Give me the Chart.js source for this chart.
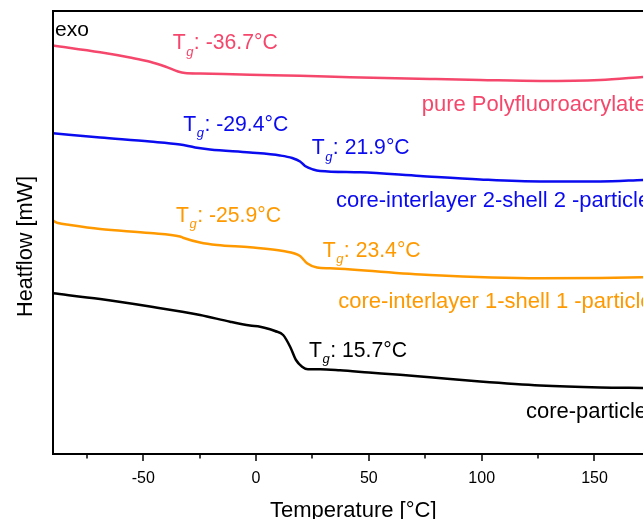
<!DOCTYPE html>
<html>
<head>
<meta charset="utf-8">
<script src="https://cdn.jsdelivr.net/npm/chart.js@4/dist/chart.umd.min.js"></script>
<style>
html,body{margin:0;padding:0;background:#fff;}
#c{display:block;}
</style>
</head>
<body>
<canvas id="c" width="643" height="519"></canvas>
<script>
// ---- data (Temperature in °C, heat flow in arbitrary offset units) ----
const redT   = [-90, -69.1, -55.9, -47.0, -40.3, -34.6, -31.5, -24.8, -2.7, 19.5, 41.7, 77.1, 99.3, 125.9, 152.5, 171.5];
const redHF  = [40.85, 40.17, 39.65, 39.23, 38.75, 38.25, 38.10, 38.05, 37.92, 37.83, 37.67, 37.50, 37.40, 37.30, 37.40, 37.70];

const blueT  = [-90, -69.1, -47.0, -33.7, -27.0, -20.4, -2.7, 10.6, 16.0, 19.5, 21.7, 25.3, 28.4, 46.1, 72.7, 99.3, 125.9, 152.5, 171.5];
const blueHF = [32.07, 31.65, 31.25, 30.95, 30.65, 30.45, 30.15, 29.85, 29.60, 29.25, 28.80, 28.45, 28.30, 28.17, 27.80, 27.45, 27.25, 27.25, 27.40];

const orangeT  = [-90, -87.8, -82.4, -69.1, -47.0, -33.7, -32.4, -24.8, -17.3, -2.7, 12.0, 19.5, 22.6, 27.0, 32.8, 77.1, 125.9, 152.5, 171.5];
const orangeHF = [23.33, 23.10, 22.90, 22.50, 22.10, 21.75, 21.63, 21.15, 20.90, 20.67, 20.30, 19.80, 19.07, 18.65, 18.57, 17.90, 17.57, 17.60, 17.67];

const blackT  = [-90, -69.1, -47.0, -24.8, -11.5, -2.7, 1.8, 6.2, 8.4, 12.0, 15.1, 17.7, 20.4, 23.0, 28.4, 37.2, 50.0, 63.8, 77.1, 99.3, 125.9, 152.5, 171.5];
const blackHF = [16.07, 15.50, 14.75, 13.90, 13.23, 12.85, 12.73, 12.47, 12.30, 11.90, 10.73, 9.40, 8.73, 8.47, 8.47, 8.37, 8.15, 7.92, 7.67, 7.25, 6.85, 6.65, 6.60];

const seriesNames = ["pure Polyfluoroacrylate", "core-interlayer 2-shell 2 -particle", "core-interlayer 1-shell 1 -particle", "core-particle"];
const xTickLabels = [-50, 0, 50, 100, 150];
const xMinorTicks = [-75, -25, 25, 75, 125];
const tgValues = ["-36.7°C", "-29.4°C", "21.9°C", "-25.9°C", "23.4°C", "15.7°C"];

// ---- styling / layout ----
const FONT = "'Liberation Sans', Arial, sans-serif";
const RED = '#f5476c', BLUE = '#0b0bef', ORANGE = '#ff9900', BLACK = '#000000';

function pts(xs, ys){ return xs.map((x,i)=>({x:x, y:ys[i]})); }

const tgLabels = [
  {i:0, x:172.7, y:49.3, c:RED},
  {i:1, x:183.3, y:130.7, c:BLUE},
  {i:2, x:311.7, y:154.3, c:BLUE},
  {i:3, x:176.0, y:221.7, c:ORANGE},
  {i:4, x:322.7, y:257.0, c:ORANGE},
  {i:5, x:309.0, y:356.5, c:BLACK}
];
const nameLabels = [
  {i:0, x:421.7, y:110.5, c:RED},
  {i:1, x:336.0, y:207.3, c:BLUE},
  {i:2, x:338.3, y:308.0, c:ORANGE},
  {i:3, x:526.0, y:417.5, c:BLACK}
];

const decor = {
  id:'decor',
  afterDraw(chart){
    const ctx = chart.ctx, a = chart.chartArea, xs = chart.scales.x;
    ctx.save();
    // frame
    ctx.strokeStyle = '#000'; ctx.lineWidth = 2;
    ctx.beginPath();
    ctx.moveTo(a.right+2, a.top); ctx.lineTo(a.left, a.top); ctx.lineTo(a.left, a.bottom); ctx.lineTo(a.right+2, a.bottom);
    ctx.stroke();
    // ticks
    ctx.lineWidth = 1.5;
    xTickLabels.forEach(v=>{ const px = Math.round(xs.getPixelForValue(v)); ctx.beginPath(); ctx.moveTo(px, a.bottom); ctx.lineTo(px, a.bottom+7); ctx.stroke(); });
    xMinorTicks.forEach(v=>{ const px = Math.round(xs.getPixelForValue(v)); ctx.beginPath(); ctx.moveTo(px, a.bottom); ctx.lineTo(px, a.bottom+4.5); ctx.stroke(); });
    // texts
    ctx.textBaseline = 'alphabetic'; ctx.textAlign = 'left';
    ctx.fillStyle = '#000';
    ctx.font = '21px ' + FONT;
    ctx.fillText('exo', 55, 35.7);
    nameLabels.forEach(l=>{ ctx.fillStyle = l.c; ctx.font = '22px ' + FONT; ctx.fillText(seriesNames[l.i], l.x, l.y); });
    tgLabels.forEach(l=>{
      ctx.fillStyle = l.c;
      ctx.font = '21.2px ' + FONT;
      ctx.fillText('T', l.x, l.y);
      let x = l.x + ctx.measureText('T').width;
      ctx.font = 'italic 13px ' + FONT;
      ctx.fillText('g', x + 0.5, l.y + 6.3);
      x += 0.5 + ctx.measureText('g').width;
      ctx.font = '21.2px ' + FONT;
      ctx.fillText(': ' + tgValues[l.i], x + 0.5, l.y);
    });
    // axis titles
    ctx.fillStyle = '#000';
    ctx.font = '22px ' + FONT;
    ctx.fillText('Temperature [°C]', 270, 517);
    ctx.save();
    ctx.translate(31.7, 317);
    ctx.rotate(-Math.PI/2);
    ctx.font = '21.7px ' + FONT;
    ctx.fillText('Heatflow [mW]', 0, 0);
    ctx.restore();
    ctx.restore();
  }
};

const ds = (label, xs, ys, color) => ({
  label, data: pts(xs, ys), borderColor: color, backgroundColor: color,
  borderWidth: 2.5, pointRadius: 0, cubicInterpolationMode: 'monotone', fill: false
});

new Chart(document.getElementById('c'), {
  type: 'line',
  data: {
    datasets: [
      ds(seriesNames[0], redT, redHF, RED),
      ds(seriesNames[1], blueT, blueHF, BLUE),
      ds(seriesNames[2], orangeT, orangeHF, ORANGE),
      ds(seriesNames[3], blackT, blackHF, BLACK)
    ]
  },
  options: {
    responsive: false,
    devicePixelRatio: 1,
    animation: false,
    layout: { padding: { top: 11, left: 0, right: 0, bottom: 0 } },
    plugins: { legend: { display: false }, tooltip: { enabled: false } },
    scales: {
      x: {
        type: 'linear', min: -90, max: 171.5,
        afterBuildTicks: s => { s.ticks = xTickLabels.map(v => ({ value: v })); },
        afterFit: s => { s.height = 65; },
        grid: { display: false, drawTicks: false },
        border: { display: false },
        ticks: { color: '#000', font: { family: FONT, size: 16 }, padding: 15, maxRotation: 0, autoSkip: false }
      },
      y: {
        type: 'linear', min: 0, max: 44.3,
        afterFit: s => { s.width = 53; },
        grid: { display: false, drawTicks: false },
        border: { display: false },
        ticks: { display: false }
      }
    }
  },
  plugins: [decor]
});
</script>
</body>
</html>
